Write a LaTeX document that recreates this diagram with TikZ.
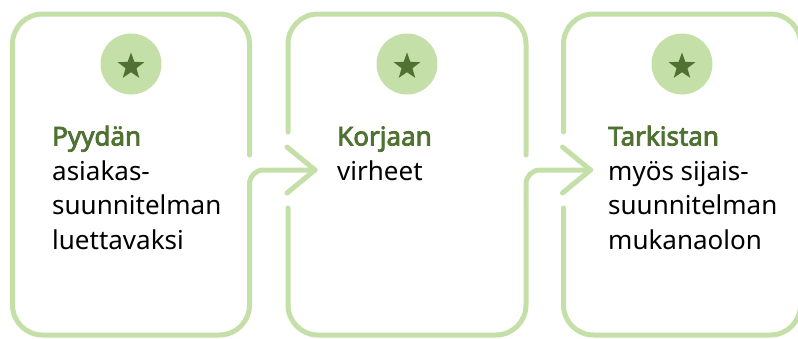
\documentclass[tikz,border=0pt]{standalone}
\usepackage{fontspec}
\setmainfont{Noto Sans}[BoldFont={Noto Sans},BoldFeatures={FakeBold=3}]
\usetikzlibrary{shapes.geometric}
\definecolor{leaf}{HTML}{C5DFA8}
\definecolor{moss}{HTML}{4F7233}
\tikzset{
  rim/.style={draw=leaf,line width=5pt,line cap=round,line join=round},
  badge/.style={circle,fill=leaf,minimum size=61pt,inner sep=0pt},
  starglyph/.style={star,star points=5,star point ratio=2.45,fill=moss,minimum size=28pt,inner sep=0pt},
  cardtext/.style={anchor=base west,align=left,inner sep=0pt,font=\fontsize{26}{34.5}\selectfont}
}

\begin{document}
\begin{tikzpicture}[x=1pt,y=-1pt]
  \useasboundingbox (0,0) rectangle (798,338);
  % badges
  \foreach \n/\x in {1/131,2/407,3/682} {
    \node[badge] (badge\n) at (\x,64) {};
    \node[starglyph] (star\n) at (\x,66.5) {};
  }
  % cards
  \draw[rim,rounded corners=30pt] (249.5,155) -- (249.5,14) -- (12.5,14) -- (12.5,335) -- (249.5,335) -- (249.5,200);
  \draw[rim,rounded corners=30pt] (288,132) -- (288,14) -- (526,14) -- (526,155);
  \draw[rim,rounded corners=30pt] (288,208) -- (288,335) -- (526,335) -- (526,200);
  \draw[rim,rounded corners=30pt] (563.5,132) -- (563.5,14) -- (800.5,14) -- (800.5,335) -- (563.5,335) -- (563.5,208);
  % arrows
  \coordinate (out1) at (249.5,200);
  \coordinate (tip1) at (315,170);
  \coordinate (out2) at (526,200);
  \coordinate (tip2) at (590.5,170);
  \foreach \n in {1,2} {
    \draw[rim,rounded corners=14pt] (out\n) -- (out\n |- tip\n) -- (tip\n);
    \draw[rim] (tip\n) ++(-28,-23) -- (tip\n) -- ++(-28,23);
  }
  % texts (anchored at the last baseline)
  \node[cardtext] (txt1) at (52,249) {\textbf{\color{moss}Pyydän}\\asiakas-\\suunnitelman\\luettavaksi};
  \node[cardtext] (txt2) at (337,180) {\textbf{\color{moss}Korjaan}\\virheet};
  \node[cardtext] (txt3) at (608,249) {\textbf{\color{moss}Tarkistan}\\myös sijais-\\suunnitelman\\mukanaolon};
\end{tikzpicture}
\end{document}
